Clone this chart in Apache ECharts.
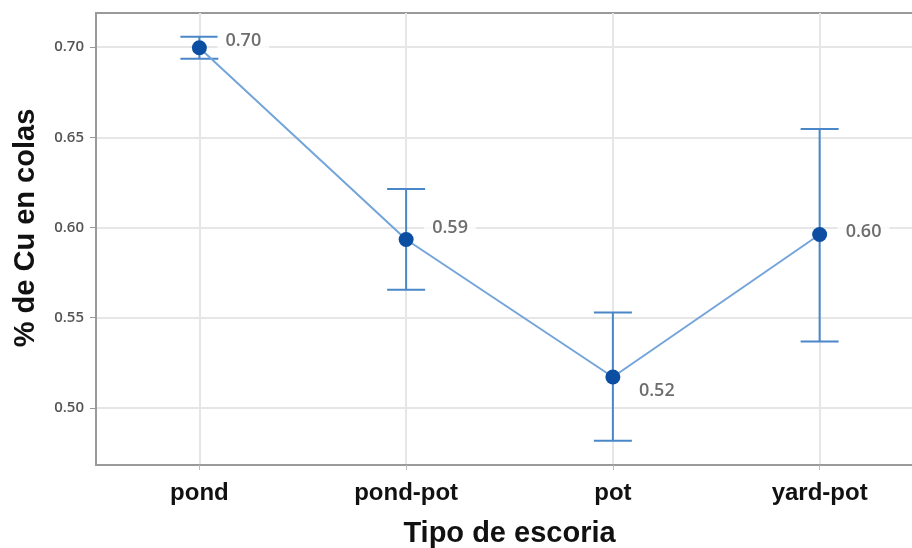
<!DOCTYPE html>
<html><head><meta charset="utf-8">
<script src="https://cdn.jsdelivr.net/npm/echarts@6/dist/echarts.min.js"></script>
<style>html,body{margin:0;padding:0;background:#fff}#c{width:912px;height:548px}</style>
</head><body><div id="c"></div>
<script>
const categories = ['pond', 'pond-pot', 'pot', 'yard-pot'];
const means = [0.6996, 0.5933, 0.5171, 0.5961];
const lower = [0.6935, 0.5654, 0.4818, 0.5368];
const upper = [0.7057, 0.6213, 0.5529, 0.6546];
const yTicks = [0.50, 0.55, 0.60, 0.65, 0.70];
const labelOffsets = [[13, -7], [13, -12], [13, 14], [13, -3]];

const chart = echarts.init(document.getElementById('c'));
const gridLines = yTicks.map(v => ({ yAxis: v })).concat(categories.map(c => ({ xAxis: c })));
chart.setOption({
  animation: false,
  backgroundColor: '#fff',
  grid: { left: 96, top: 13, width: 827, height: 452, outerBoundsMode: 'none', containLabel: false, show: true, borderColor: '#9a9a9a', borderWidth: 2, backgroundColor: 'transparent' },
  xAxis: {
    type: 'category', data: categories, boundaryGap: true,
    axisLine: { show: true, lineStyle: { color: '#9a9a9a', width: 2 } },
    axisTick: { show: true, alignWithLabel: true, length: 5, lineStyle: { color: '#bbb' } },
    axisLabel: { margin: 16, fontFamily: 'Liberation Sans', fontWeight: 'bold', fontSize: 24, color: '#111' },
    splitLine: { show: false },
    name: 'Tipo de escoria', nameLocation: 'middle', nameGap: 54,
    nameTextStyle: { fontFamily: 'Liberation Sans', fontWeight: 'bold', fontSize: 29, color: '#111' }
  },
  yAxis: {
    type: 'value', min: 0.4683, max: 0.7189,
    axisLine: { show: true, lineStyle: { color: '#9a9a9a', width: 2 } },
    axisTick: { show: true, customValues: yTicks, length: 6, lineStyle: { color: '#999' } },
    axisLabel: { customValues: yTicks, formatter: v => v.toFixed(2), margin: 12, fontFamily: 'Open Sans', fontWeight: 600, fontSize: 15, color: '#555' },
    splitLine: { show: false },
    name: '% de Cu en colas', nameLocation: 'middle', nameGap: 56,
    nameTextStyle: { fontFamily: 'Liberation Sans', fontWeight: 'bold', fontSize: 29, color: '#111', padding: [0, 0, 0, 22] }
  },
  series: [
    {
      type: 'line', data: [], z: 0, silent: true,
      markLine: { silent: true, z: 0, symbol: 'none', label: { show: false }, animation: false,
        lineStyle: { color: '#e6e6e6', width: 2, type: 'solid' }, data: gridLines }
    },
    {
      type: 'custom', z: 2,
      data: categories.map((c, i) => [i, lower[i], upper[i]]),
      renderItem: function (params, api) {
        const x = api.value(0);
        const lo = api.coord([x, api.value(1)]);
        const hi = api.coord([x, api.value(2)]);
        const hw = 19;
        const st = { stroke: '#4a87c9', lineWidth: 2 };
        return { type: 'group', children: [
          { type: 'line', shape: { x1: lo[0], y1: lo[1], x2: hi[0], y2: hi[1] }, style: st },
          { type: 'line', shape: { x1: lo[0] - hw, y1: lo[1], x2: lo[0] + hw, y2: lo[1] }, style: st },
          { type: 'line', shape: { x1: hi[0] - hw, y1: hi[1], x2: hi[0] + hw, y2: hi[1] }, style: st }
        ] };
      }
    },
    {
      type: 'line', data: means, z: 3,
      lineStyle: { color: '#74a5da', width: 2 },
      symbol: 'circle', symbolSize: 15,
      itemStyle: { color: '#0b4ea2' },
      label: { show: false }
    },
    {
      type: 'scatter', z: 5, symbolSize: 0, silent: true,
      data: means.map((v, i) => ({
        value: [i, v],
        label: { show: true, position: 'right', offset: labelOffsets[i], formatter: v.toFixed(2),
          fontFamily: 'Open Sans', fontWeight: 600, fontSize: 18, color: '#484848', backgroundColor: '#fff', padding: [2, 8] }
      }))
    }
  ]
});
</script></body></html>
